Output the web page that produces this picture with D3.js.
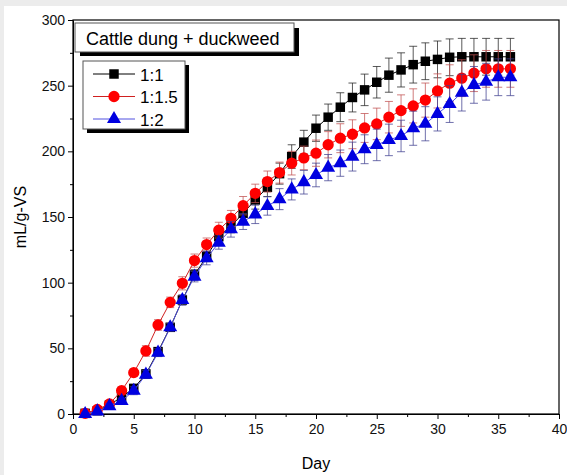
<!DOCTYPE html>
<html>
<head>
<meta charset="utf-8">
<script src="https://cdn.jsdelivr.net/npm/d3@7"></script>
<style>
  body { margin: 0; background: #fff; }
  svg { display: block; font-family: "Liberation Sans", Arial, sans-serif; }
</style>
</head>
<body>
<svg id="chart" width="567" height="475"></svg>
<script>
// days 1..36
var days = d3.range(1, 37);

// cumulative yield, mL/g-VS
var s11 = [0.5, 2.5, 6.8, 13, 19.5, 30.5, 47.5, 66, 86.8, 105.9, 120, 135, 143, 152.8, 163, 172.6, 183, 196,
           207, 217.6, 226, 233.6, 241, 246.8, 252.6, 258, 262, 266, 268.6, 270, 271.6, 272, 272, 272, 272, 272];
var s115 = [0.5, 3.5, 7.6, 17.8, 31.5, 48, 67.8, 85, 99.5, 116.8, 129, 140, 149, 158.6, 168, 177, 183.8, 191,
            195, 198.6, 205, 210, 213, 217.8, 220.9, 226, 231, 234.6, 239, 246, 251.9, 255.7, 259.5, 262.8, 262.8, 262.8];
var s12 = [0, 2, 6, 10, 17.7, 30, 46.7, 66, 86.8, 104.6, 118.6, 130.5, 140.7, 146.5, 152, 158.4, 163.6, 171,
           176.5, 182, 187.6, 191, 196, 201.6, 204.9, 208.7, 211.7, 217.6, 221, 228.5, 236, 244.7, 250.6, 253, 256.4, 256.4];

// standard deviations (error bars)
var e11 = [1, 1.5, 2, 2, 3, 3, 3, 3, 3, 4, 4, 5, 5, 6, 7, 7, 8, 9, 9, 10, 10, 11, 11, 12,
           12, 13, 13, 14, 14, 14, 14, 14, 14, 14, 14, 14];
var e115 = [1, 1.5, 2, 3, 3, 4, 4, 4, 5, 5, 5, 6, 6, 7, 7, 8, 8, 9, 9, 10, 10, 11, 11, 11,
            12, 12, 12, 13, 13, 13, 14, 14, 14, 14, 14, 14];
var e12 = [1, 1, 2, 2, 3, 3, 3, 3, 4, 4, 5, 5, 6, 6, 7, 7, 8, 8, 9, 9, 10, 10, 11, 11,
           12, 12, 12, 13, 13, 13, 14, 14, 14, 14, 14, 14];

var seriesNames = ["1:1", "1:1.5", "1:2"];
var xTicks = [0, 5, 10, 15, 20, 25, 30, 35, 40];
var yTicks = [0, 50, 100, 150, 200, 250, 300];
var legendTitle = "Cattle dung + duckweed";

var series = [
  {name: seriesNames[0], vals: s11, err: e11, color: "#000", line: "#000", errColor: "#222", shape: d3.symbolSquare, size: 90},
  {name: seriesNames[1], vals: s115, err: e115, color: "#f00", line: "#d02020", errColor: "#c05050", shape: d3.symbolCircle, size: 100},
  {name: seriesNames[2], vals: s12, err: e12, color: "#0000e0", line: "#5050e0", errColor: "#404090", shape: d3.symbolTriangle, size: 85}
];

var svg = d3.select("#chart");
var pL = 73, pR = 559, pT = 20, pB = 414;

// faint grey border like the scanned figure
svg.append("rect").attr("x", 0).attr("y", 0).attr("width", 567).attr("height", 6).attr("fill", "#ececec");
svg.append("rect").attr("x", 0).attr("y", 0).attr("width", 4).attr("height", 475).attr("fill", "#ececec");

var x = d3.scaleLinear().domain([0, 40]).range([pL, pR]);
var y = d3.scaleLinear().domain([0, 300]).range([pB, pT]);

// minor ticks
svg.append("g").attr("transform", "translate(0," + pB + ")")
  .call(d3.axisBottom(x).tickValues(d3.range(2.5, 40, 5)).tickSize(3).tickFormat(""))
  .call(function(g){ g.select(".domain").remove(); });
svg.append("g").attr("transform", "translate(" + pL + ",0)")
  .call(d3.axisLeft(y).tickValues(d3.range(25, 300, 50)).tickSize(3).tickFormat(""))
  .call(function(g){ g.select(".domain").remove(); });

svg.append("g").attr("transform", "translate(0," + pB + ")")
  .call(d3.axisBottom(x).tickValues(xTicks).tickSize(5).tickSizeOuter(0).tickPadding(5));
svg.append("g").attr("transform", "translate(" + pL + ",0)")
  .call(d3.axisLeft(y).tickValues(yTicks).tickSize(5).tickSizeOuter(0).tickPadding(3));
svg.selectAll(".tick text").attr("font-size", 14).attr("font-family", "Liberation Sans, Arial").attr("fill", "#111");
svg.selectAll(".tick line, .domain").attr("stroke", "#000");

// frame
svg.append("rect").attr("x", pL).attr("y", pT).attr("width", pR - pL).attr("height", pB - pT)
  .attr("fill", "none").attr("stroke", "#000").attr("stroke-width", 1.2);

// axis titles
svg.append("text").attr("x", x(20)).attr("y", 469).attr("text-anchor", "middle")
  .attr("font-size", 16).text("Day");
svg.append("text").attr("transform", "translate(26," + y(150) + ") rotate(-90)")
  .attr("text-anchor", "middle").attr("font-size", 16).text("mL/g-VS");

var line = d3.line().x(function(d, i){ return x(days[i]); }).y(function(d){ return y(d); });

series.forEach(function(s){
  var g = svg.append("g");
  // error bars
  var eb = g.selectAll(".eb").data(s.vals).enter().append("g").attr("stroke", s.errColor).attr("stroke-opacity", 0.75);
  eb.append("line")
    .attr("x1", function(d, i){ return x(days[i]); }).attr("x2", function(d, i){ return x(days[i]); })
    .attr("y1", function(d, i){ return y(d + s.err[i]); }).attr("y2", function(d, i){ return y(d - s.err[i]); });
  eb.append("line")
    .attr("x1", function(d, i){ return x(days[i]) - 4; }).attr("x2", function(d, i){ return x(days[i]) + 4; })
    .attr("y1", function(d, i){ return y(d + s.err[i]); }).attr("y2", function(d, i){ return y(d + s.err[i]); });
  eb.append("line")
    .attr("x1", function(d, i){ return x(days[i]) - 4; }).attr("x2", function(d, i){ return x(days[i]) + 4; })
    .attr("y1", function(d, i){ return y(d - s.err[i]); }).attr("y2", function(d, i){ return y(d - s.err[i]); });
  s.g = g;
});

series.forEach(function(s){
  s.g.append("path").datum(s.vals).attr("d", line).attr("fill", "none")
    .attr("stroke", s.line).attr("stroke-width", 1);
  s.g.selectAll(".pt").data(s.vals).enter().append("path")
    .attr("d", d3.symbol().type(s.shape).size(s.size))
    .attr("transform", function(d, i){ return "translate(" + x(days[i]) + "," + y(d) + ")"; })
    .attr("fill", s.color);
});

// legend title box with shadow
svg.append("rect").attr("x", 80).attr("y", 28).attr("width", 219).attr("height", 28).attr("fill", "#000");
svg.append("rect").attr("x", 75).attr("y", 23).attr("width", 219).attr("height", 29)
  .attr("fill", "#fff").attr("stroke", "#555");
svg.append("text").attr("x", 86).attr("y", 44.5).attr("font-size", 18).attr("fill", "#000").text(legendTitle);

// series legend
svg.append("rect").attr("x", 87).attr("y", 65).attr("width", 102).attr("height", 68).attr("fill", "#000");
svg.append("rect").attr("x", 83).attr("y", 61).attr("width", 102).attr("height", 68)
  .attr("fill", "#fff").attr("stroke", "#555");
var leg = svg.selectAll(".leg").data(series).enter().append("g")
  .attr("transform", function(d, i){ return "translate(0," + (74 + i * 22.5) + ")"; });
leg.append("line").attr("x1", 93).attr("x2", 135).attr("y1", 0).attr("y2", 0)
  .attr("stroke", function(d){ return d.line; });
leg.append("path").attr("d", function(d){ return d3.symbol().type(d.shape).size(d.size)(); })
  .attr("transform", "translate(114,0)").attr("fill", function(d){ return d.color; });
leg.append("text").attr("x", 140).attr("y", 6.5).attr("font-size", 17).text(function(d){ return d.name; });
</script>
</body>
</html>
